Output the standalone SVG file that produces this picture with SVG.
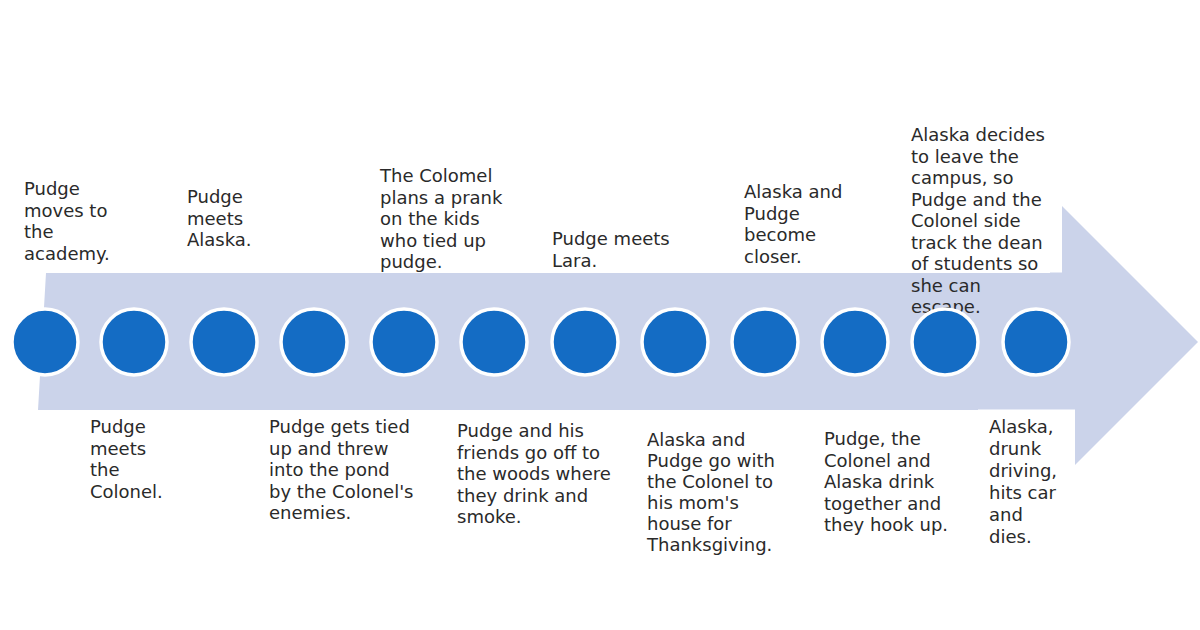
<svg xmlns="http://www.w3.org/2000/svg" width="1200" height="630" viewBox="0 0 1200 630">
<style>
.t{font-family:"DejaVu Sans","Liberation Sans",sans-serif;font-size:18px;fill:#2a2a2a}
.dot{fill:#146cc4;stroke:#ffffff;stroke-width:3.5}
.box{fill:#ffffff}
</style>
<rect width="1200" height="630" fill="#ffffff"/>
<g id="connectors">
<polygon id="timeline-arrow" points="46,273 1050,273 1050,194 1198,342 1050,490 1050,410 38,410" fill="#cbd3ea"/>
</g>
<g id="event1">
<text class="t" x="24" y="195"><tspan x="24" y="195">Pudge</tspan><tspan x="24" y="216.5">moves to</tspan><tspan x="24" y="238">the</tspan><tspan x="24" y="259.5">academy.</tspan></text>
<circle class="dot" cx="45" cy="342" r="33"/>
</g>
<g id="event2">
<text class="t" x="90" y="433"><tspan x="90" y="433">Pudge</tspan><tspan x="90" y="454.5">meets</tspan><tspan x="90" y="476">the</tspan><tspan x="90" y="497.5">Colonel.</tspan></text>
<circle class="dot" cx="134" cy="342" r="33"/>
</g>
<g id="event3">
<text class="t" x="187" y="203"><tspan x="187" y="203">Pudge</tspan><tspan x="187" y="224.5">meets</tspan><tspan x="187" y="246">Alaska.</tspan></text>
<circle class="dot" cx="224" cy="342" r="33"/>
</g>
<g id="event4">
<text class="t" x="269" y="433"><tspan x="269" y="433">Pudge gets tied</tspan><tspan x="269" y="454.5">up and threw</tspan><tspan x="269" y="476">into the pond</tspan><tspan x="269" y="497.5">by the Colonel's</tspan><tspan x="269" y="519">enemies.</tspan></text>
<circle class="dot" cx="314" cy="342" r="33"/>
</g>
<g id="event5">
<text class="t" x="380" y="182"><tspan x="380" y="182">The Colomel</tspan><tspan x="380" y="203.5">plans a prank</tspan><tspan x="380" y="225">on the kids</tspan><tspan x="380" y="246.5">who tied up</tspan><tspan x="380" y="268">pudge.</tspan></text>
<circle class="dot" cx="404" cy="342" r="33"/>
</g>
<g id="event6">
<text class="t" x="457" y="437"><tspan x="457" y="437">Pudge and his</tspan><tspan x="457" y="458.5">friends go off to</tspan><tspan x="457" y="480">the woods where</tspan><tspan x="457" y="501.5">they drink and</tspan><tspan x="457" y="523">smoke.</tspan></text>
<circle class="dot" cx="494" cy="342" r="33"/>
</g>
<g id="event7">
<text class="t" x="552" y="245"><tspan x="552" y="245">Pudge meets</tspan><tspan x="552" y="266.5">Lara.</tspan></text>
<circle class="dot" cx="585" cy="342" r="33"/>
</g>
<g id="event8">
<text class="t" x="647" y="446"><tspan x="647" y="446">Alaska and</tspan><tspan x="647" y="467">Pudge go with</tspan><tspan x="647" y="488">the Colonel to</tspan><tspan x="647" y="509">his mom's</tspan><tspan x="647" y="530">house for</tspan><tspan x="647" y="551">Thanksgiving.</tspan></text>
<circle class="dot" cx="675" cy="342" r="33"/>
</g>
<g id="event9">
<text class="t" x="744" y="198"><tspan x="744" y="198">Alaska and</tspan><tspan x="744" y="219.5">Pudge</tspan><tspan x="744" y="241">become</tspan><tspan x="744" y="262.5">closer.</tspan></text>
<circle class="dot" cx="765" cy="342" r="33"/>
</g>
<g id="event10">
<text class="t" x="824" y="445"><tspan x="824" y="445">Pudge, the</tspan><tspan x="824" y="466.5">Colonel and</tspan><tspan x="824" y="488">Alaska drink</tspan><tspan x="824" y="509.5">together and</tspan><tspan x="824" y="531">they hook up.</tspan></text>
<circle class="dot" cx="855" cy="342" r="33"/>
</g>
<g id="event11">
<rect class="box" x="904" y="115" width="158" height="157.5"/>
<text class="t" x="911" y="141"><tspan x="911" y="141">Alaska decides</tspan><tspan x="911" y="162.5">to leave the</tspan><tspan x="911" y="184">campus, so</tspan><tspan x="911" y="205.5">Pudge and the</tspan><tspan x="911" y="227">Colonel side</tspan><tspan x="911" y="248.5">track the dean</tspan><tspan x="911" y="270">of students so</tspan><tspan x="911" y="291.5">she can</tspan><tspan x="911" y="313">escape.</tspan></text>
<circle class="dot" cx="945" cy="342" r="33"/>
</g>
<g id="event12">
<rect class="box" x="978" y="409.5" width="97" height="150"/>
<text class="t" x="989" y="433"><tspan x="989" y="433">Alaska,</tspan><tspan x="989" y="455">drunk</tspan><tspan x="989" y="477">driving,</tspan><tspan x="989" y="499">hits car</tspan><tspan x="989" y="521">and</tspan><tspan x="989" y="543">dies.</tspan></text>
<circle class="dot" cx="1036" cy="342" r="33"/>
</g>
</svg>
